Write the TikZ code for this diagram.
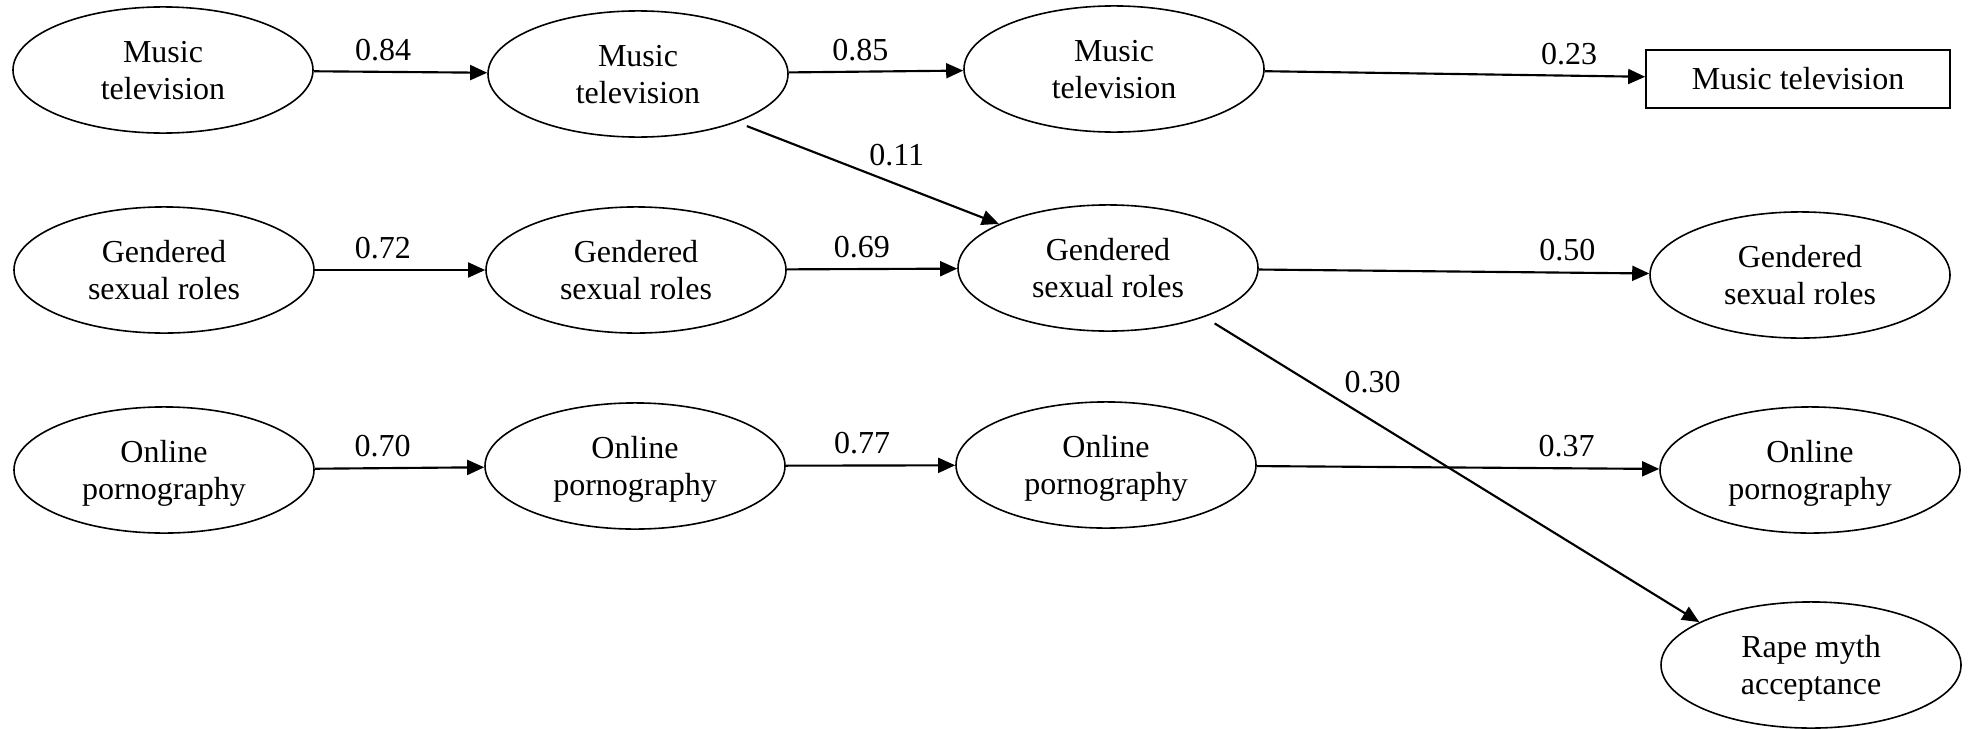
\documentclass[tikz,border=0pt]{standalone}
\usepackage{fontspec}
\setmainfont{Liberation Serif}
\usetikzlibrary{shapes.geometric,arrows.meta}

\begin{document}
\begin{tikzpicture}[x=0.375pt, y=-0.375pt,
    every node/.style={font=\fontsize{12}{13.9}\selectfont},
    latent/.style={ellipse, draw, line width=0.6pt, minimum width=112.5pt,
      minimum height=47.3pt, inner sep=0pt, align=center, text depth=0pt},
    observed/.style={draw, line width=0.6pt, minimum width=114pt,
      minimum height=21.8pt, inner sep=0pt},
    arr/.style={-{Triangle[length=6.4pt,width=5.6pt]}, line width=0.8pt},
    coef/.style={above=#1, inner sep=0pt}, coef/.default=3.8pt]
      \useasboundingbox (0,0) rectangle (1971,728);
      % first wave
      \node[latent] (mt1) at (163,70) {Music\\television};
      \node[latent] (gs1) at (164,270) {Gendered\\sexual roles};
      \node[latent] (op1) at (164,470) {Online\\pornography};
      % second wave
      \node[latent] (mt2) at (638,74) {Music\\television};
      \node[latent] (gs2) at (636,270) {Gendered\\sexual roles};
      \node[latent] (op2) at (635,466) {Online\\pornography};
      % third wave
      \node[latent] (mt3) at (1114,69) {Music\\television};
      \node[latent] (gs3) at (1108,268) {Gendered\\sexual roles};
      \node[latent] (op3) at (1106,465) {Online\\pornography};
      % last wave and outcome
      \node[observed] (mt4) at (1798,79) {Music television};
      \node[latent] (gs4) at (1800,275) {Gendered\\sexual roles};
      \node[latent] (op4) at (1810,470) {Online\\pornography};
      \node[latent] (rma) at (1811,665) {Rape myth\\acceptance};
      % stability paths
      \draw[arr] (mt1) -- node[coef, pos=0.4] {0.84} (mt2);
      \draw[arr] (mt2) -- node[coef, pos=0.41] {0.85} (mt3);
      \draw[arr] (mt3) -- node[coef, pos=0.8] {0.23} (mt4);
      \draw[arr] (gs1) -- node[coef, pos=0.4] {0.72} (gs2);
      \draw[arr] (gs2) -- node[coef, pos=0.44] {0.69} (gs3);
      \draw[arr] (gs3) -- node[coef, pos=0.79] {0.50} (gs4);
      \draw[arr] (op1) -- node[coef, pos=0.4] {0.70} (op2);
      \draw[arr] (op2) -- node[coef, pos=0.45] {0.77} (op3);
      \draw[arr] (op3) -- node[coef, pos=0.77] {0.37} (op4);
      % cross paths
      \draw[arr, shorten <=4pt] (mt2.-26) -- node[coef=6.5pt, pos=0.61] {0.11} (gs3.158);
      \draw[arr, shorten <=4.5pt] (gs3.-27) -- node[coef=10.2pt, pos=0.34] {0.30} (rma.159);
    \end{tikzpicture}
\end{document}
